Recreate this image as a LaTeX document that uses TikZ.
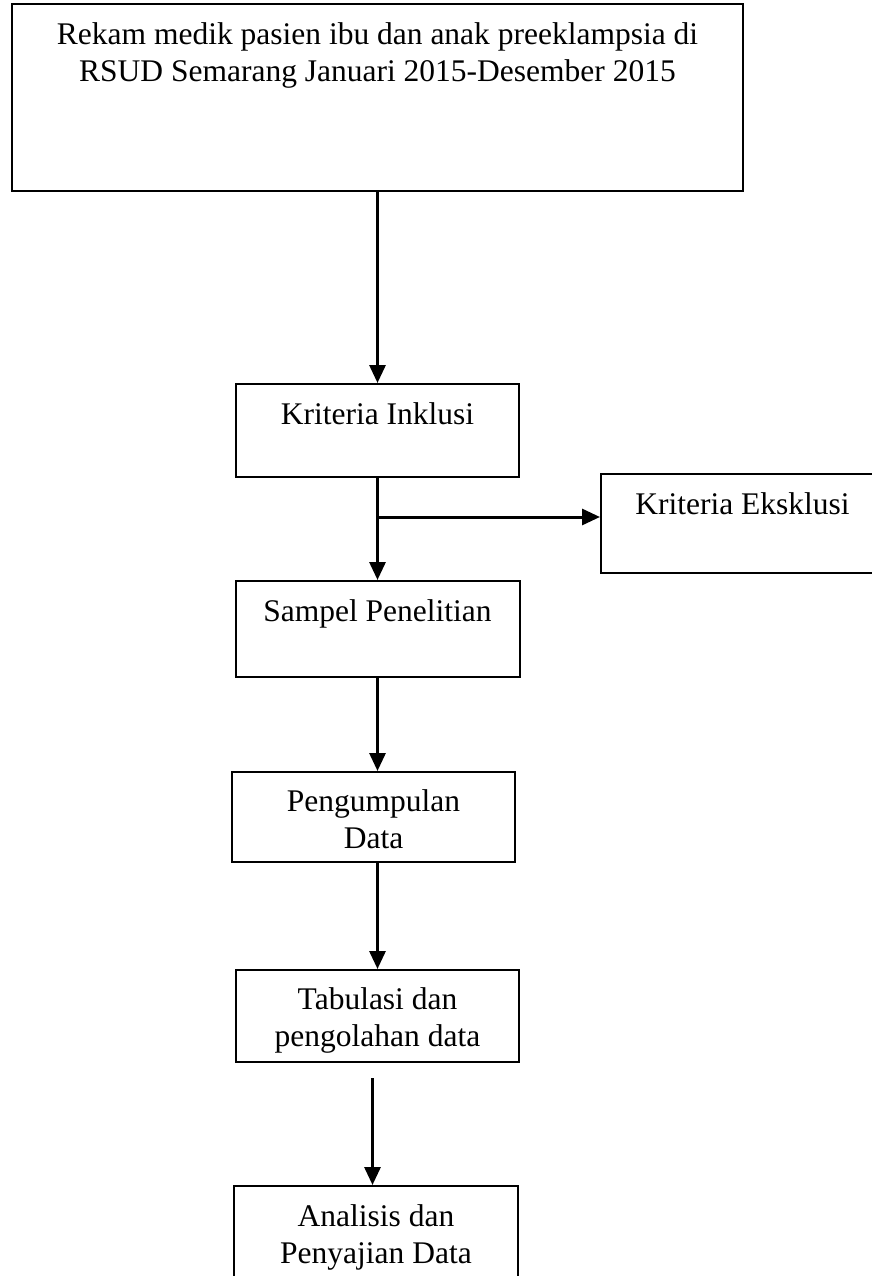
\documentclass[tikz,border=0pt]{standalone}
\usepackage{fontspec}
\setmainfont{Liberation Serif}
\usetikzlibrary{arrows.meta,positioning}

\begin{document}
\begin{tikzpicture}[x=1pt, y=-1pt,
    box/.style={draw, line width=2pt, inner sep=0pt},
    txt/.style={inner sep=0pt, align=center, font=\fontsize{31.5}{37}\selectfont},
    arr/.style={line width=3pt, -{Triangle[width=16pt,length=18pt]}}]
  \useasboundingbox (0,0) rectangle (872,1276);
  \clip (0,0) rectangle (872,1276);
  \node[box, minimum width=731pt, minimum height=187pt] (rekam) at (377.5, 97.5) {};
  \node[box, minimum width=283pt, minimum height=93pt] (inkl) at (377.5, 430.5) {};
  \node[box, minimum width=283pt, minimum height=99pt] (eksk) at (742.5, 523.5) {};
  \node[box, minimum width=284pt, minimum height=96pt] (sampel) at (377.5, 629) {};
  \node[box, minimum width=283pt, minimum height=90pt] (kumpul) at (373.5, 817) {};
  \node[box, minimum width=283pt, minimum height=92pt] (tabul) at (377.5, 1016) {};
  \node[box, minimum width=284pt, minimum height=96pt] (anal) at (376, 1234) {};
  \node[txt, below=19pt of rekam.north] (rekamtxt) {Rekam medik pasien ibu dan anak preeklampsia di\\RSUD Semarang Januari 2015-Desember 2015};
  \node[txt, below=19pt of inkl.north] (inkltxt) {Kriteria Inklusi};
  \node[txt, below=19pt of eksk.north] (eksktxt) {Kriteria Eksklusi};
  \node[txt, below=19pt of sampel.north] (sampeltxt) {Sampel Penelitian};
  \node[txt, below=18pt of kumpul.north] (kumpultxt) {Pengumpulan\\Data};
  \node[txt, below=18pt of tabul.north] (tabultxt) {Tabulasi dan\\pengolahan data};
  \node[txt, below=19pt of anal.north] (analtxt) {Analisis dan\\Penyajian Data};
  \coordinate (cabang) at ([yshift=-39pt]inkl.south);
  \coordinate (lepas) at ([xshift=-5pt, yshift=-15pt]tabul.south);
  \draw[arr] (rekam) -- (inkl);
  \draw[arr] (inkl.south) -- (inkl.south |- sampel.north);
  \draw[arr] (cabang) -- (cabang -| eksk.west);
  \draw[arr] (sampel.south) -- (sampel.south |- kumpul.north);
  \draw[arr] (tabul.north |- kumpul.south) -- (tabul.north);
  \draw[arr] (lepas) -- (lepas |- anal.north);
\end{tikzpicture}
\end{document}
